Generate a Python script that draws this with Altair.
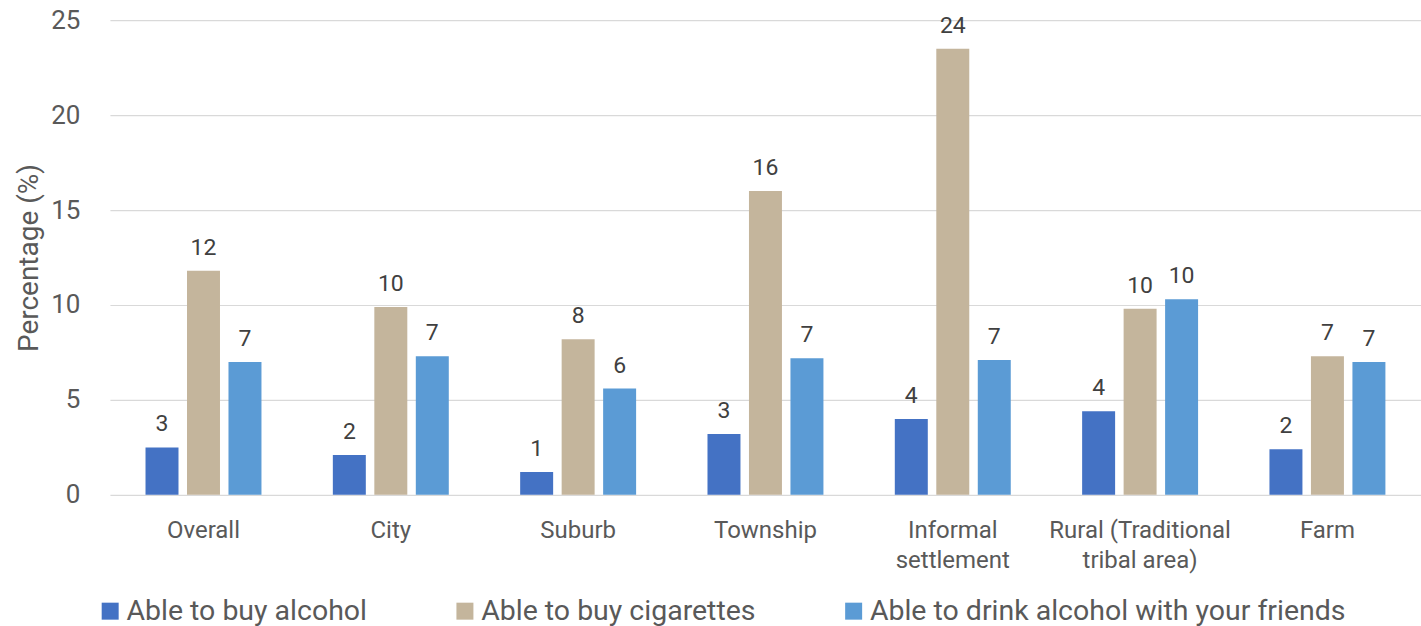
import altair as alt
import pandas as pd

categories = ["Overall", "City", "Suburb", "Township", "Informal settlement",
              "Rural (Traditional tribal area)", "Farm"]
series = ["Able to buy alcohol", "Able to buy cigarettes",
          "Able to drink alcohol with your friends"]
alcohol = [2.5, 2.1, 1.2, 3.2, 4.0, 4.4, 2.4]
cigarettes = [11.8, 9.9, 8.2, 16.0, 23.5, 9.8, 7.3]
friends = [7.0, 7.3, 5.6, 7.2, 7.1, 10.3, 7.0]
alcohol_labels = ["3", "2", "1", "3", "4", "4", "2"]
cigarettes_labels = ["12", "10", "8", "16", "24", "10", "7"]
friends_labels = ["7", "7", "6", "7", "7", "10", "7"]
colors = ["#4472C4", "#C4B59C", "#5B9BD5"]

rows = []
for vals, labs, s in [(alcohol, alcohol_labels, series[0]),
                      (cigarettes, cigarettes_labels, series[1]),
                      (friends, friends_labels, series[2])]:
    for c, v, l in zip(categories, vals, labs):
        rows.append({"category": c, "series": s, "value": v, "label": l})
df = pd.DataFrame(rows)

FONT = "Roboto"

x = alt.X("category:N", sort=categories, title=None,
          scale=alt.Scale(paddingInner=0.381, paddingOuter=0.19),
          axis=alt.Axis(labelAngle=0, ticks=False, grid=False, domain=False,
                        gridOpacity=0, domainOpacity=0,
                        labelPadding=24,
                        labelFontSize=24, labelColor="#595959", labelFont=FONT,
                        labelLineHeight=30, labelLimit=400,
                        labelExpr="datum.value == 'Informal settlement' ? ['Informal', 'settlement'] : datum.value == 'Rural (Traditional tribal area)' ? ['Rural (Traditional', 'tribal area)'] : datum.label"))
xo = alt.XOffset("series:N", sort=series,
                 scale=alt.Scale(paddingInner=0.205, paddingOuter=0))
y = alt.Y("value:Q", title="Percentage (%)",
          scale=alt.Scale(domain=[0, 25], nice=False),
          axis=alt.Axis(values=[0, 5, 10, 15, 20, 25], ticks=False, domain=False,
                        domainOpacity=0,
                        labelPadding=30, labelFontSize=26, labelColor="#595959",
                        labelFont=FONT, gridColor="#d9d9d9", gridWidth=1.2,
                        titleFontSize=28, titleFont=FONT, titleColor="#595959",
                        titleFontWeight="normal", titleX=-66, titleY=237.5))
color = alt.Color("series:N", sort=series,
                  scale=alt.Scale(domain=series, range=colors),
                  legend=alt.Legend(title=None, orient="none", direction="horizontal",
                                    legendX=-14, legendY=577, symbolType="square",
                                    symbolSize=289, symbolStrokeWidth=0,
                                    labelFontSize=28.5, labelFont=FONT,
                                    labelColor="#595959", labelOffset=2,
                                    columnPadding=83, labelLimit=600))

bars = alt.Chart(df).mark_bar().encode(x=x, xOffset=xo, y=y, color=color)
text = alt.Chart(df).mark_text(baseline="alphabetic", dy=-16, fontSize=23,
                               font=FONT, color="#404040").encode(
    x=x, xOffset=xo, y=y, text="label:N")

chart = (bars + text).properties(
    width=1312, height=475,
    autosize=alt.AutoSizeParams(type="none"),
    padding={"left": 110, "top": 20, "right": 0, "bottom": 131},
    view=alt.ViewBackground(stroke="transparent", strokeWidth=0, strokeOpacity=0),
).configure_view(strokeWidth=0, strokeOpacity=0).configure(background="white")

chart.save("out.html", embed_options={"renderer": "svg", "actions": False})
